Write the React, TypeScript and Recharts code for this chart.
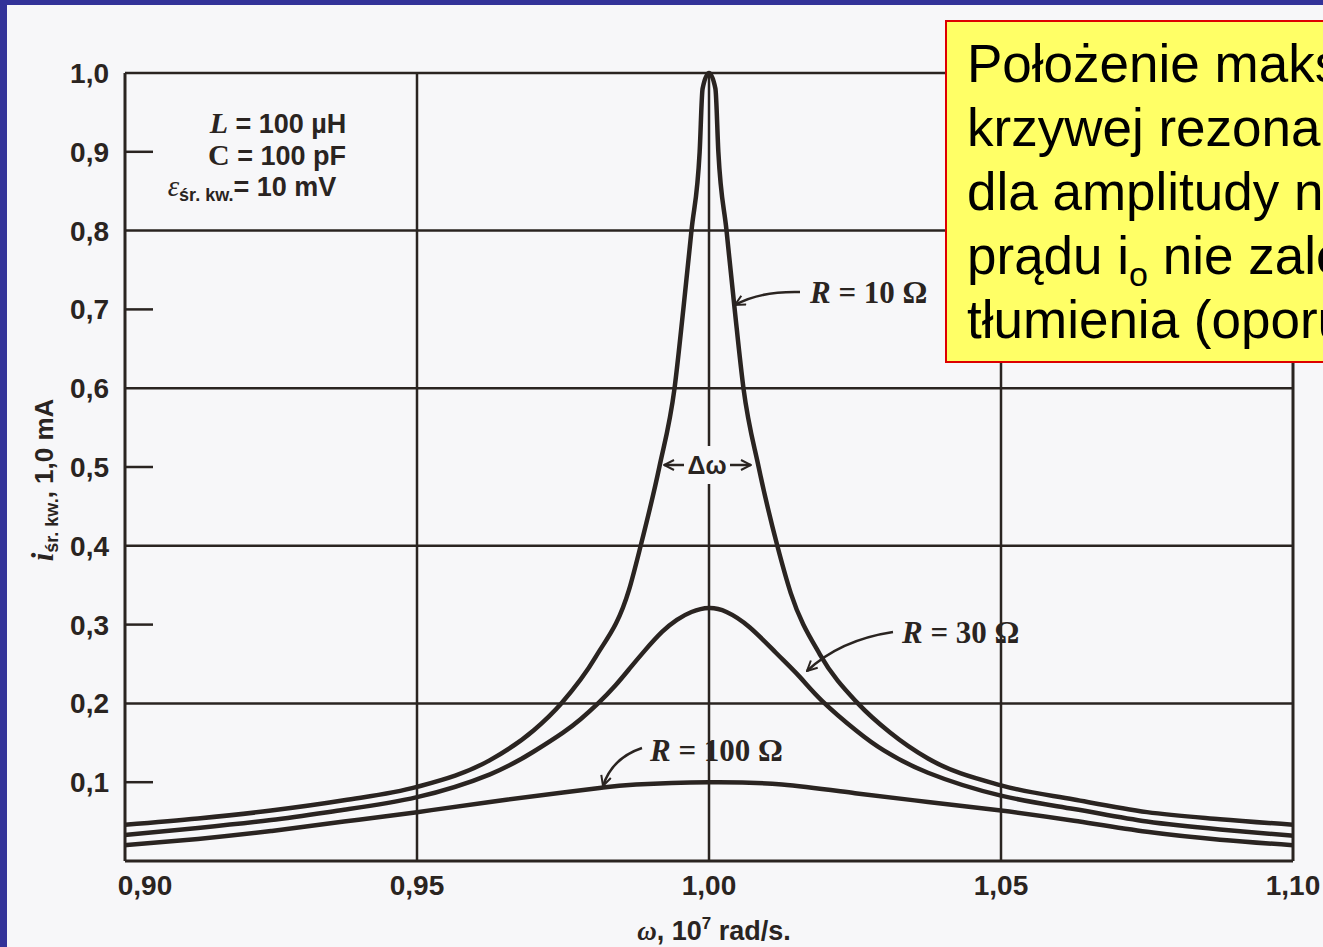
import React from 'react';
import { LineChart, Line, XAxis, YAxis, CartesianGrid } from 'recharts';

// omega in 10^7 rad/s, current in mA
const omegaTicks = [0.9, 0.95, 1.0, 1.05, 1.1];
const currentTicks = [0.1, 0.2, 0.3, 0.4, 0.5, 0.6, 0.7, 0.8, 0.9, 1.0];
const gridCurrents = [0.2, 0.4, 0.6, 0.8, 1.0];
const gridOmegas = [0.95, 1.0, 1.05];
const stubCurrents = [0.1, 0.3, 0.5, 0.7, 0.9];

const omegaR10 = [0.9, 0.9125, 0.925, 0.9375, 0.95, 0.9625, 0.97, 0.9747, 0.9806, 0.9863, 0.9883, 0.9915, 0.9941, 0.9956, 0.997, 0.9984, 0.9989, 1.0, 1.0011, 1.0016, 1.003, 1.0044, 1.0059, 1.0085, 1.0117, 1.014, 1.019, 1.0255, 1.031, 1.0375, 1.05, 1.0625, 1.075, 1.0875, 1.1];
const currentR10 = [0.046, 0.054, 0.064, 0.077, 0.094, 0.128, 0.166, 0.2, 0.259, 0.344, 0.4, 0.5, 0.6, 0.7, 0.8, 0.9, 0.98, 1.0, 0.98, 0.9, 0.8, 0.7, 0.6, 0.5, 0.4, 0.34, 0.262, 0.2, 0.163, 0.13, 0.096, 0.078, 0.062, 0.053, 0.046];

const omegaR30 = [0.9, 0.9125, 0.925, 0.9375, 0.95, 0.9625, 0.97, 0.975, 0.978, 0.981, 0.984, 0.9865, 0.989, 0.992, 0.9945, 0.997, 1.0, 1.003, 1.0069, 1.0115, 1.0155, 1.0194, 1.0253, 1.03, 1.0375, 1.05, 1.0625, 1.075, 1.0875, 1.1];
const currentR30 = [0.033, 0.042, 0.052, 0.065, 0.081, 0.11, 0.139, 0.163, 0.18, 0.2, 0.223, 0.245, 0.267, 0.291, 0.306, 0.316, 0.321, 0.316, 0.297, 0.264, 0.234, 0.203, 0.165, 0.14, 0.112, 0.083, 0.066, 0.05, 0.04, 0.032];

const omegaR100 = [0.9, 0.9125, 0.925, 0.9375, 0.95, 0.9625, 0.975, 0.9816, 0.9875, 1.0, 1.0125, 1.025, 1.0375, 1.05, 1.0625, 1.075, 1.0875, 1.1];
const currentR100 = [0.02, 0.028, 0.038, 0.05, 0.062, 0.075, 0.087, 0.093, 0.097, 0.1, 0.097, 0.086, 0.075, 0.064, 0.051, 0.037, 0.027, 0.02];

const toPoints = (omega: number[], current: number[]) =>
  omega.map((o, i) => ({ omega: o, current: current[i] }));

const r10Data = toPoints(omegaR10, currentR10);
const r30Data = toPoints(omegaR30, currentR30);
const r100Data = toPoints(omegaR100, currentR100);

const ink = '#2a2421';
const paper = '#f7f7f9';
const tickFont = "'Liberation Sans Narrow', 'Liberation Sans', Arial, sans-serif";
const serif = "'Liberation Serif', 'DejaVu Serif', serif";

const OmegaTick = ({ x, y, payload }: any) => {
  const shift = payload.value === 0.9 ? 20 : 0;
  return (
    <text x={x + shift} y={y + 34} textAnchor="middle" fontSize={28} fontWeight="bold" fontFamily={tickFont} fill={ink}>
      {payload.value.toFixed(2).replace('.', ',')}
    </text>
  );
};

const CurrentTick = ({ x, y, payload }: any) => {
  const odd = stubCurrents.includes(payload.value);
  return (
    <g>
      <text x={x - 2} y={y + 10} textAnchor="end" fontSize={28} fontWeight="bold" fontFamily={tickFont} fill={ink}>
        {payload.value.toFixed(1).replace('.', ',')}
      </text>
      {odd && <line x1={x + 14} x2={x + 42} y1={y} y2={y} stroke={ink} strokeWidth={2.5} />}
    </g>
  );
};

const RightStub = ({ x, y }: any) => (
  <line x1={x - 28} x2={x} y1={y} y2={y} stroke={ink} strokeWidth={2.5} />
);

const Arrow = ({ d }: { d: string }) => (
  <path d={d} fill="none" stroke={ink} strokeWidth={2.5} markerEnd="url(#head)" />
);

export default function App() {
  return (
    <div style={{ position: 'fixed', left: 0, top: 0, width: 1323, height: 947, overflow: 'hidden', background: paper }}>
      <div style={{ position: 'absolute', left: 0, top: 0 }}>
        <LineChart width={1323} height={947} margin={{ top: 73, right: 0, bottom: 0, left: 0 }}>
          <CartesianGrid horizontalValues={gridCurrents} verticalValues={gridOmegas} stroke={ink} strokeWidth={2.5} />
          <XAxis
            type="number"
            dataKey="omega"
            domain={[0.9, 1.1]}
            ticks={omegaTicks}
            interval={0}
            allowDataOverflow
            height={86}
            tickSize={0}
            tickMargin={0}
            tickLine={false}
            axisLine={{ stroke: ink, strokeWidth: 3 }}
            tick={<OmegaTick />}
          />
          <YAxis
            type="number"
            domain={[0, 1]}
            ticks={currentTicks}
            interval={0}
            width={125}
            tickSize={0}
            tickMargin={14}
            tickLine={false}
            axisLine={{ stroke: ink, strokeWidth: 3 }}
            tick={<CurrentTick />}
          />
          <YAxis
            yAxisId="right"
            orientation="right"
            type="number"
            domain={[0, 1]}
            ticks={stubCurrents}
            interval={0}
            width={30}
            tickSize={0}
            tickMargin={0}
            tickLine={false}
            axisLine={{ stroke: ink, strokeWidth: 3 }}
            tick={<RightStub />}
          />
          <Line data={r10Data} dataKey="current" type="monotone" stroke={ink} strokeWidth={4.5} dot={false} isAnimationActive={false} />
          <Line data={r30Data} dataKey="current" type="natural" stroke={ink} strokeWidth={4.5} dot={false} isAnimationActive={false} />
          <Line data={r100Data} dataKey="current" type="natural" stroke={ink} strokeWidth={4.5} dot={false} isAnimationActive={false} />
        </LineChart>
      </div>

      <svg width={1323} height={947} style={{ position: 'absolute', left: 0, top: 0, pointerEvents: 'none' }}>
        <defs>
          <marker id="head" viewBox="0 0 12 12" refX="11" refY="6" markerWidth="12" markerHeight="12" markerUnits="userSpaceOnUse" orient="auto">
            <path d="M1,1 L11,6 L1,11" fill="none" stroke={ink} strokeWidth={2} />
          </marker>
        </defs>

        <g fill={ink} fontFamily={tickFont} fontSize={27} fontWeight="bold">
          <text x={278} y={133} textAnchor="middle">
            <tspan fontFamily={serif} fontStyle="italic" fontSize={30}>L</tspan>
            <tspan> = 100 µH</tspan>
          </text>
          <text x={277} y={165} textAnchor="middle">
            <tspan fontFamily={serif} fontSize={30}>C</tspan>
            <tspan> = 100 pF</tspan>
          </text>
          <text x={252} y={196} textAnchor="middle">
            <tspan fontFamily={serif} fontStyle="italic" fontWeight="normal" fontSize={29}>ε</tspan>
            <tspan fontSize={18} dy={5}>śr. kw.</tspan>
            <tspan dy={-5}>= 10 mV</tspan>
          </text>
        </g>

        <text x={53} y={480} transform="rotate(-90 53 480)" textAnchor="middle" fill={ink} fontFamily={tickFont} fontSize={26} fontWeight="bold">
          <tspan fontFamily={serif} fontStyle="italic" fontSize={31}>i</tspan>
          <tspan fontSize={18} dy={5}>śr. kw.</tspan>
          <tspan dy={-5}>, 1,0 mA</tspan>
        </text>

        <text x={714} y={940} textAnchor="middle" fill={ink} fontFamily={tickFont} fontSize={27} fontWeight="bold">
          <tspan fontFamily={serif} fontStyle="italic">ω</tspan>
          <tspan>, 10</tspan>
          <tspan fontSize={17} dy={-11}>7</tspan>
          <tspan dy={11}> rad/s.</tspan>
        </text>

        <rect x={684} y={446} width={46} height={38} fill={paper} />
        <text x={707} y={474} textAnchor="middle" fill={ink} fontFamily={tickFont} fontSize={25} fontWeight="bold">Δω</text>
        <Arrow d="M684,465 L664,465" />
        <Arrow d="M730,465 L751,465" />

        <g fill={ink} fontFamily={serif} fontWeight="bold" fontSize={31}>
          <text x={810} y={303}>
            <tspan fontStyle="italic">R</tspan> = 10 Ω
          </text>
          <text x={902} y={643}>
            <tspan fontStyle="italic">R</tspan> = 30 Ω
          </text>
          <text x={650} y={761}>
            <tspan fontStyle="italic">R</tspan> = 100 Ω
          </text>
        </g>
        <Arrow d="M800,292 Q760,291 735,305" />
        <Arrow d="M893,632 Q840,640 807,671" />
        <Arrow d="M642,748 Q612,758 603,786" />
      </svg>

      <div style={{ position: 'absolute', left: 0, top: 0, width: 7, height: 947, background: '#333399' }} />
      <div style={{ position: 'absolute', left: 0, top: 0, width: 1323, height: 5, background: '#333399' }} />

      <div
        style={{
          position: 'absolute',
          left: 945,
          top: 20,
          width: 560,
          height: 343,
          boxSizing: 'border-box',
          background: '#ffff66',
          border: '2px solid #dd0000',
          padding: '10px 0 0 20px',
          fontFamily: "'Liberation Sans', Arial, sans-serif",
          fontSize: 53,
          lineHeight: '64px',
          color: '#000',
          whiteSpace: 'nowrap',
        }}
      >
        <div>Położenie maksimum</div>
        <div>krzywej rezonansowej</div>
        <div>dla amplitudy natężenia</div>
        <div>
          prądu i<sub style={{ fontSize: 34, lineHeight: 0 }}>o</sub> nie zależy od
        </div>
        <div>tłumienia (oporu)</div>
      </div>
    </div>
  );
}
